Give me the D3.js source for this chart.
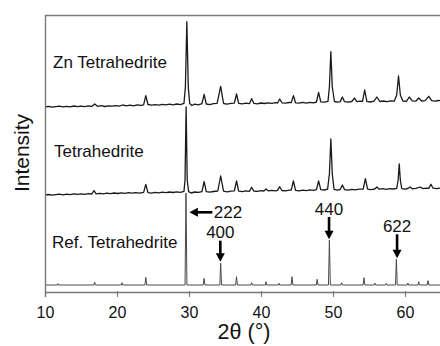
<!DOCTYPE html>
<html>
<head>
<meta charset="utf-8">
<script src="https://cdn.jsdelivr.net/npm/d3@7"></script>
<style>
  html, body { margin: 0; padding: 0; background: #fff; }
  svg { display: block; font-family: "Liberation Sans", Arial, sans-serif; }
</style>
</head>
<body>
<svg id="chart" width="440" height="346"></svg>
<script>
// ---- data (2θ in degrees, intensity in stacked arbitrary units) ----
const xTicks = [10, 20, 30, 40, 50, 60];
const seriesNames = ["Zn Tetrahedrite", "Tetrahedrite", "Ref. Tetrahedrite"];

const znTetrahedrite = [
  [10,185],[10.5,185.6],[11,184.8],[11.5,185.4],[12,185.9],[12.5,185.1],[13,185.7],[13.5,185.2],[14,186],[14.5,185.4],
  [15,185.9],[15.5,185.3],[16,186.1],[16.5,185.6],[16.9,188],[17.3,185.7],[17.8,186.3],[18.3,185.5],[18.8,186.2],[19.3,185.8],
  [19.8,186.4],[20.3,185.9],[20.8,187],[21.3,186.2],[21.8,186.8],[22.3,186.1],[22.8,187.2],[23.3,186.6],[23.7,187.2],[24.0,196.3],
  [24.3,187.5],[24.8,186.8],[25.3,187.4],[25.8,186.9],[26.3,187.6],[26.8,187.1],[27.3,187.8],[27.8,187.2],[28.3,188],[28.8,187.4],
  [29.3,188.6],[29.5,205],[29.7,270.3],[29.9,205],[30.1,188.4],[30.4,186.5],[30.8,187.8],[31.3,187.2],[31.8,188.4],[32.1,197.7],
  [32.4,188],[32.9,187.4],[33.4,188.3],[33.9,188.7],[34.4,205.7],[34.8,188.5],[35.3,187.9],[35.8,188.6],[36.3,188.8],[36.6,198],
  [36.9,188.6],[37.4,188.1],[37.9,188.9],[38.4,188.3],[38.7,193.3],[39,188.7],[39.5,188.2],[40,189],[40.5,188.5],[41,189.2],
  [41.5,188.6],[42,189.3],[42.3,189],[42.6,193],[42.9,189.2],[43.4,188.8],[43.9,189.5],[44.2,189.4],[44.5,196.3],[44.8,189.2],
  [45.3,188.8],[45.8,189.6],[46.3,188.9],[46.8,189.7],[47.3,189.2],[47.7,190],[48.0,199.7],[48.3,190.2],[48.8,189.8],[49.3,190.6],
  [49.5,205],[49.7,240.3],[49.9,205],[50.2,190.5],[50.6,189.8],[51,190.4],[51.3,195],[51.6,190.3],[52.1,189.8],[52.6,190.5],
  [53,194],[53.3,190.4],[53.8,190.9],[54.1,190.7],[54.4,202],[54.7,190.6],[55.2,190],[55.7,190.8],[56.1,195],[56.5,190.5],
  [57,191],[57.5,190.4],[58,191.2],[58.5,190.8],[58.85,197],[59.1,216],[59.35,197],[59.7,191],[60.2,190.6],[60.6,195],
  [61,191.2],[61.5,190.8],[61.9,194],[62.3,191],[62.8,191.4],[63.3,195.7],[63.7,191.3],[64.2,190.9],[64.6,191.5],[65,191.2]
];

const tetrahedrite = [
  [10,97],[10.5,97.5],[11,96.8],[11.5,97.4],[12,97.9],[12.5,97.2],[13,97.8],[13.5,97.3],[14,98.1],[14.5,97.6],
  [15,98.2],[15.5,97.7],[16,98.4],[16.5,98],[16.8,101.3],[17.1,98.2],[17.6,98.7],[18.1,98.1],[18.6,98.8],[19.1,98.3],
  [19.6,99],[20.1,98.5],[20.6,99.1],[21.1,98.6],[21.6,99.3],[22.1,98.8],[22.6,99.4],[23.1,98.9],[23.7,99.6],[24,107.7],
  [24.3,99.3],[24.8,98.9],[25.3,99.6],[25.8,99.1],[26.3,99.8],[26.8,99.3],[27.3,100],[27.8,99.5],[28.3,100.2],[28.8,99.7],
  [29.3,100.6],[29.45,112],[29.6,185],[29.75,112],[29.95,100.4],[30.3,99],[30.8,100],[31.3,99.6],[31.8,100.4],[32.1,110.3],
  [32.4,100.3],[32.9,99.8],[33.4,100.5],[34,101],[34.4,116],[34.8,100.8],[35.3,100.2],[35.8,100.9],[36.3,101.1],[36.6,111],
  [36.9,100.9],[37.4,100.4],[37.9,101.1],[38.4,100.7],[38.7,104.7],[39,101],[39.5,100.6],[40,101.3],[40.4,101],[40.7,103],
  [41,101.2],[41.5,101.7],[42,101.1],[42.3,101.6],[42.6,105.3],[42.9,101.5],[43.4,101.1],[43.9,101.9],[44.2,101.8],[44.5,111],
  [44.8,101.6],[45.3,101.2],[45.8,101.9],[46.3,101.4],[46.8,102.1],[47.3,101.6],[47.7,102.3],[48,111],[48.3,102.4],[48.8,102],
  [49.25,102.8],[49.5,118],[49.7,153],[49.9,118],[50.15,102.6],[50.6,101.9],[51,102.5],[51.3,107],[51.6,102.4],[52.1,101.9],
  [52.6,102.6],[53.1,102.2],[53.6,102.8],[54.2,103],[54.5,113.3],[54.8,102.9],[55.3,102.3],[55.8,103],[56.1,105],[56.4,102.8],
  [56.9,103.3],[57.4,102.7],[57.9,103.4],[58.4,103],[58.85,103.6],[59.05,112],[59.2,128],[59.35,112],[59.55,103.4],[60,102.9],
  [60.4,103.5],[60.7,105],[61,103.2],[61.5,103.7],[62.1,105],[62.5,103.4],[63,103.9],[63.3,103.6],[63.6,107.7],[63.9,103.8],
  [64.4,103.4],[65,104]
];

const refTetrahedrite = [
  [10,7],[11.7,7],[11.8,8.3],[11.9,7],[16.8,7],[16.9,9.7],[17.0,7],[20.6,7],[20.7,9.3],[20.8,7],
  [23.88,7],[24.0,14.7],[24.12,7],[29.45,7],[29.58,99],[29.71,7],[31.98,7],[32.1,13.7],[32.22,7],
  [34.28,7],[34.4,28.7],[34.52,7],[36.48,7],[36.6,15.3],[36.72,7],[38.6,7],[38.7,9.3],[38.8,7],
  [40.6,7],[40.7,10.3],[40.8,7],[42.4,7],[42.5,8.7],[42.6,7],[44.18,7],[44.3,15.3],[44.42,7],
  [47.68,7],[47.8,12.7],[47.92,7],[49.37,7],[49.5,52],[49.63,7],[51.1,7],[51.2,9.3],[51.3,7],
  [54.18,7],[54.3,14.3],[54.42,7],[55.7,7],[55.8,9],[55.9,7],[57.3,7],[57.4,8.7],[57.5,7],
  [58.68,7],[58.8,33],[58.92,7],[60.3,7],[60.4,9],[60.5,7],[61.8,7],[61.9,10.3],[62.0,7],
  [63.08,7],[63.2,11.3],[63.32,7],[65,7]
];

// reflection annotations: label, 2θ of arrow, arrow tail / tip intensity
const annoLabels = ["222", "400", "440", "622"];
const annoX      = [30.05, 34.35, 49.45, 58.9];
const annoTail   = [79.7, 51.3, 75, 57.7];
const annoTip    = [79.7, 30.3, 52.7, 33.7];
const annoDir    = ["left", "down", "down", "down"];

// ---- layout ----
const svg = d3.select("#chart");
const x = d3.scaleLinear().domain([10, 65]).range([45, 441]);
const y = d3.scaleLinear().domain([0, 277]).range([292, 15]);

const frameColor = "#7a7a7a";

svg.append("defs").append("clipPath").attr("id", "clip")
  .append("rect").attr("x", 45).attr("y", 15).attr("width", 400).attr("height", 280);

const line = d3.line().x(d => x(d[0])).y(d => y(d[1]));
const g = svg.append("g").attr("clip-path", "url(#clip)");
const allSeries = [znTetrahedrite, tetrahedrite, refTetrahedrite];
const seriesColors = ["#1a1a1a", "#1a1a1a", "#4a4a4a"];
const seriesWidths = [1.3, 1.3, 1.0];
allSeries.forEach((s, i) => {
  g.append("path").datum(s).attr("d", line)
    .attr("fill", "none").attr("stroke", seriesColors[i])
    .attr("stroke-width", seriesWidths[i]).attr("stroke-linejoin", "round");
});

// frame: top and left borders
svg.append("line").attr("x1", 45).attr("x2", 440).attr("y1", 15.5).attr("y2", 15.5)
  .attr("stroke", frameColor).attr("stroke-width", 1.6);
svg.append("line").attr("x1", 45.5).attr("x2", 45.5).attr("y1", 15).attr("y2", 297)
  .attr("stroke", frameColor).attr("stroke-width", 1.4);

// x axis
const xAxis = d3.axisBottom(x).tickValues(xTicks).tickSize(5).tickPadding(9.6).tickSizeOuter(0)
  .tickFormat(d3.format("d"));
const ax = svg.append("g").attr("transform", "translate(0,292)").call(xAxis);
ax.select(".domain").attr("stroke", frameColor).attr("stroke-width", 1.3);
ax.selectAll(".tick line").attr("stroke", frameColor).attr("stroke-width", 1.2)
  .attr("y1", -1);
ax.selectAll(".tick text").attr("fill", "#111").style("font-size", "16px")
  .style("font-family", "'Liberation Sans', Arial, sans-serif");

// axis titles
svg.append("text").attr("x", 244).attr("y", 339).attr("text-anchor", "middle")
  .attr("fill", "#111").style("font-size", "21.5px").text("2θ (°)");
svg.append("text").attr("transform", "translate(28.5,153) rotate(-90)")
  .attr("text-anchor", "middle").attr("fill", "#111").style("font-size", "21px").text("Intensity");

// series labels
const labelPos = [[53, 68], [54, 157], [52, 248]];
seriesNames.forEach((n, i) => {
  svg.append("text").attr("x", labelPos[i][0]).attr("y", labelPos[i][1])
    .attr("fill", "#111").style("font-size", "17px").text(n);
});

// annotations
const ag = svg.append("g");
annoLabels.forEach((lab, i) => {
  const xt = x(annoX[i]);
  if (annoDir[i] === "left") {
    const yy = y(annoTip[i]);
    const tipX = xt, tailX = xt + 23;
    ag.append("line").attr("x1", tipX + 7).attr("x2", tailX).attr("y1", yy).attr("y2", yy)
      .attr("stroke", "#000").attr("stroke-width", 2.6);
    ag.append("path").attr("d", `M${tipX},${yy} L${tipX + 8.5},${yy - 4.5} L${tipX + 8.5},${yy + 4.5} Z`)
      .attr("fill", "#000");
    ag.append("text").attr("x", tailX + 1.5).attr("y", yy + 6).attr("fill", "#111")
      .style("font-size", "17px").text(lab);
  } else {
    const yTail = y(annoTail[i]), yTip = y(annoTip[i]);
    ag.append("line").attr("x1", xt).attr("x2", xt).attr("y1", yTail).attr("y2", yTip - 7)
      .attr("stroke", "#000").attr("stroke-width", 2.6);
    ag.append("path").attr("d", `M${xt},${yTip} L${xt - 4.5},${yTip - 8.5} L${xt + 4.5},${yTip - 8.5} Z`)
      .attr("fill", "#000");
    ag.append("text").attr("x", xt).attr("y", yTail - 2.5).attr("text-anchor", "middle")
      .attr("fill", "#111").style("font-size", "17px").text(lab);
  }
});
</script>
</body>
</html>
